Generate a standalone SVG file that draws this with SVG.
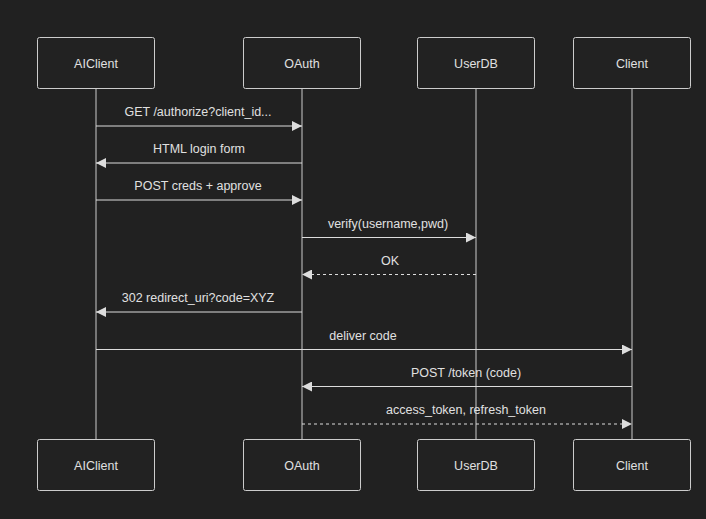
<svg xmlns="http://www.w3.org/2000/svg" width="706" height="519" viewBox="0 0 706 519">
<style>
.box{fill:#222222;stroke:#cccccc;stroke-width:1}
.t{font-family:"Liberation Sans",Arial,sans-serif;font-size:12.5px;fill:#e0e0e0;text-anchor:middle}
.life{stroke:#cccccc;stroke-width:1}
.m{stroke:#dddddd;stroke-width:1;fill:none}
.d{stroke-dasharray:3,3}
</style>
<defs><marker id="a" viewBox="0 0 10 10" refX="10" refY="5" markerWidth="10" markerHeight="10" markerUnits="userSpaceOnUse" orient="auto"><path d="M0,0L10,5L0,10z" fill="#dddddd"/></marker></defs>
<rect width="706" height="519" fill="#212121"/>
<g id="lifelines">
<line class="life" x1="96" y1="88" x2="96" y2="439"/>
<line class="life" x1="302" y1="88" x2="302" y2="439"/>
<line class="life" x1="476" y1="88" x2="476" y2="439"/>
<line class="life" x1="632" y1="88" x2="632" y2="439"/>
</g>
<g id="AIClient"><rect class="box" x="37.5" y="37.5" width="117" height="51" rx="2"/><text class="t" x="96" y="68">AIClient</text></g>
<g id="OAuth"><rect class="box" x="243.5" y="37.5" width="117" height="51" rx="2"/><text class="t" x="302" y="68">OAuth</text></g>
<g id="UserDB"><rect class="box" x="417.5" y="37.5" width="117" height="51" rx="2"/><text class="t" x="476" y="68">UserDB</text></g>
<g id="Client"><rect class="box" x="573.5" y="37.5" width="117" height="51" rx="2"/><text class="t" x="632" y="68">Client</text></g>
<g id="AIClient_b"><rect class="box" x="37.5" y="439.5" width="117" height="51" rx="2"/><text class="t" x="96" y="470">AIClient</text></g>
<g id="OAuth_b"><rect class="box" x="243.5" y="439.5" width="117" height="51" rx="2"/><text class="t" x="302" y="470">OAuth</text></g>
<g id="UserDB_b"><rect class="box" x="417.5" y="439.5" width="117" height="51" rx="2"/><text class="t" x="476" y="470">UserDB</text></g>
<g id="Client_b"><rect class="box" x="573.5" y="439.5" width="117" height="51" rx="2"/><text class="t" x="632" y="470">Client</text></g>
<g id="connectors">
<line class="m" x1="96" y1="126" x2="302" y2="126" marker-end="url(#a)"/><text class="t" x="198" y="116">GET /authorize?client_id...</text>
<line class="m" x1="302" y1="163" x2="96" y2="163" marker-end="url(#a)"/><text class="t" x="199" y="153">HTML login form</text>
<line class="m" x1="96" y1="200" x2="302" y2="200" marker-end="url(#a)"/><text class="t" x="198" y="190">POST creds + approve</text>
<line class="m" x1="302" y1="237.5" x2="476" y2="237.5" marker-end="url(#a)"/><text class="t" x="388" y="228">verify(username,pwd)</text>
<line class="m d" x1="476" y1="274.5" x2="302" y2="274.5" marker-end="url(#a)"/><text class="t" x="390" y="265">OK</text>
<line class="m" x1="302" y1="312" x2="96" y2="312" marker-end="url(#a)"/><text class="t" x="198" y="302">302 redirect_uri?code=XYZ</text>
<line class="m" x1="96" y1="349.5" x2="632" y2="349.5" marker-end="url(#a)"/><text class="t" x="363" y="340">deliver code</text>
<line class="m" x1="632" y1="386.5" x2="302" y2="386.5" marker-end="url(#a)"/><text class="t" x="466" y="377">POST /token (code)</text>
<line class="m d" x1="302" y1="424" x2="632" y2="424" marker-end="url(#a)"/><text class="t" x="466" y="414">access_token, refresh_token</text>
</g>
</svg>
